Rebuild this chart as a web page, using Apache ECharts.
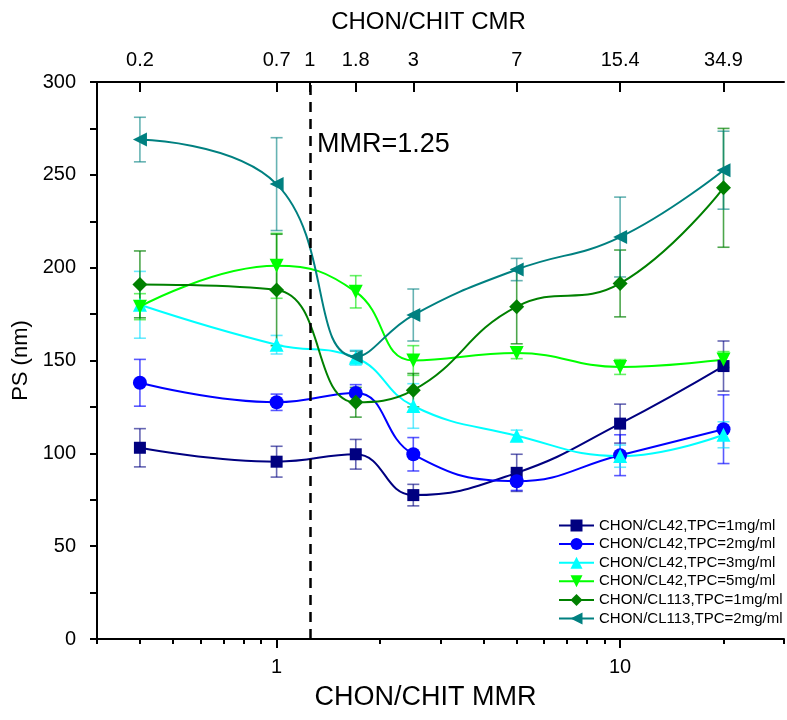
<!DOCTYPE html>
<html>
<head>
<meta charset="utf-8">
<script src="https://cdn.jsdelivr.net/npm/echarts@6/dist/echarts.min.js"></script>
<style>
html, body { margin: 0; padding: 0; background: #fff; }
#main { width: 787px; height: 720px; }
</style>
</head>
<body>
<div id="main"></div>
<script>
// x positions (CHON/CHIT MMR) and the matching CMR labels on the top axis
const mmr = [0.4, 1, 1.7, 2.5, 5, 10, 20];
const cmrTicks = [0.4, 1, 1.25, 1.7, 2.5, 5, 10, 20];
const cmrLabels = ['0.2', '0.7', '1', '1.8', '3', '7', '15.4', '34.9'];
const mmrMajor = [1, 10];
const mmrMinor = [0.3, 0.4, 0.5, 0.6, 0.7, 0.8, 0.9, 2, 3, 4, 5, 6, 7, 8, 9, 20, 30];
const mmrLine = 1.25;

const names = [
    'CHON/CL42,TPC=1mg/ml',
    'CHON/CL42,TPC=2mg/ml',
    'CHON/CL42,TPC=3mg/ml',
    'CHON/CL42,TPC=5mg/ml',
    'CHON/CL113,TPC=1mg/ml',
    'CHON/CL113,TPC=2mg/ml'
];

// PS (nm) and error bar half widths
const ps1 = [103, 95.5, 99.5, 77.5, 89.5, 116, 147];
const err1 = [10.3, 8.3, 8, 5.8, 10, 10.5, 13.5];
const ps2 = [138, 127.5, 132.5, 99.5, 85, 99, 113];
const err2 = [12.6, 4.4, 4.5, 9, 5, 11, 18.5];
const ps3 = [180, 158.5, 151.5, 125.5, 109.5, 98.5, 110];
const err3 = [18, 5, 4, 12, 3, 6, 7];
const ps4 = [179, 201, 187, 150, 154, 146.5, 150.5];
const err4 = [7, 17.5, 8.7, 8, 3, 4, 4.3];
const ps5 = [191, 188, 127.5, 134, 179, 191.5, 243];
const err5 = [18, 30, 8, 9, 20, 18, 32];
const ps6 = [269, 245, 152, 174.5, 199, 216.5, 252.5];
const err6 = [12, 25, 3, 14, 6, 21.5, 21];

const values = [ps1, ps2, ps3, ps4, ps5, ps6];
const errors = [err1, err2, err3, err4, err5, err6];

const colors = ['#000080', '#0000ff', '#00ffff', '#00ff00', '#008000', '#008080'];
const errColors = ['rgba(0,0,128,0.6)', 'rgba(0,0,255,0.65)', 'rgba(0,220,255,0.6)',
                   'rgba(0,230,0,0.6)', 'rgba(0,128,0,0.7)', 'rgba(0,128,128,0.6)'];
const symbols = ['rect', 'circle', 'triangle', 'triangle', 'diamond', 'triangle'];
const symbolRot = [0, 0, 0, 180, 0, 90];
const symbolSizes = [12, 14, 14, 14, 15, 14];

const FONT = 'Liberation Sans, Arial, sans-serif';

let myChart = echarts.init(document.getElementById('main'));

function renderErrorBar(params, api) {
    let x = api.value(0);
    let lo = api.coord([x, api.value(1)]);
    let hi = api.coord([x, api.value(2)]);
    let w = 6;
    let style = { stroke: api.visual('color'), lineWidth: 1.6 };
    return {
        type: 'group',
        children: [
            { type: 'line', shape: { x1: lo[0], y1: lo[1], x2: hi[0], y2: hi[1] }, style: style },
            { type: 'line', shape: { x1: lo[0] - w, y1: lo[1], x2: lo[0] + w, y2: lo[1] }, style: style },
            { type: 'line', shape: { x1: hi[0] - w, y1: hi[1], x2: hi[0] + w, y2: hi[1] }, style: style }
        ]
    };
}

let series = [];
values.forEach(function (ps, i) {
    series.push({
        type: 'custom',
        name: names[i] + ' error',
        xAxisIndex: 0,
        yAxisIndex: 0,
        z: 1,
        silent: true,
        itemStyle: { color: errColors[i] },
        renderItem: renderErrorBar,
        encode: { x: 0, y: [1, 2] },
        data: mmr.map(function (x, k) {
            return [x, ps[k] - errors[i][k], ps[k] + errors[i][k]];
        })
    });
});
values.forEach(function (ps, i) {
    let s = {
        type: 'line',
        name: names[i],
        xAxisIndex: 0,
        yAxisIndex: 0,
        z: 3,
        smooth: 0.45,
        symbol: symbols[i],
        symbolRotate: symbolRot[i],
        symbolSize: symbolSizes[i],
        color: colors[i],
        lineStyle: { width: 2, color: colors[i] },
        itemStyle: { color: colors[i] },
        data: mmr.map(function (x, k) { return [x, ps[k]]; })
    };
    if (i === 0) {
        s.markLine = {
            silent: true,
            symbol: 'none',
            label: { show: false },
            lineStyle: { color: '#000', width: 2.5, type: [10, 7] },
            data: [{ xAxis: mmrLine }]
        };
    }
    series.push(s);
});

let option = {
    animation: false,
    backgroundColor: '#fff',
    textStyle: { fontFamily: FONT },
    grid: { left: 97, right: 3, top: 82, bottom: 81 },
    legend: {
        data: names,
        orient: 'vertical',
        left: 558,
        top: 518,
        padding: 0,
        itemWidth: 35,
        itemHeight: 15,
        itemGap: 3.6,
        textStyle: { fontSize: 15, color: '#000', fontFamily: FONT, lineHeight: 15 }
    },
    graphic: [{
        type: 'text',
        left: 317,
        top: 131,
        style: { text: 'MMR=1.25', font: '27px ' + FONT, fill: '#000' }
    }],
    xAxis: [
        {
            type: 'log',
            logBase: 10,
            min: 0.3,
            max: 30,
            position: 'bottom',
            name: 'CHON/CHIT MMR',
            nameLocation: 'middle',
            nameGap: 45,
            nameTextStyle: { fontSize: 27, color: '#000', padding: [0, 30, 0, 0] },
            axisLine: { show: true, lineStyle: { color: '#000', width: 2 } },
            axisTick: { show: true, customValues: mmrMajor, length: 9, lineStyle: { color: '#000', width: 2 } },
            axisLabel: {
                customValues: mmrMajor,
                fontSize: 20,
                color: '#000',
                margin: 18,
                formatter: function (v) { return String(Math.round(v)); }
            },
            splitLine: { show: false }
        },
        {
            type: 'log',
            logBase: 10,
            min: 0.3,
            max: 30,
            position: 'top',
            name: 'CHON/CHIT CMR',
            nameLocation: 'middle',
            nameGap: 48,
            nameTextStyle: { fontSize: 24, color: '#000', padding: [0, 24, 0, 0] },
            axisLine: { show: true, lineStyle: { color: '#000', width: 2 } },
            axisTick: { show: true, inside: true, customValues: cmrTicks, length: 10, lineStyle: { color: '#000', width: 2 } },
            axisLabel: {
                customValues: cmrTicks,
                fontSize: 20,
                color: '#000',
                margin: 12,
                formatter: function (v) {
                    let best = 0;
                    cmrTicks.forEach(function (t, k) {
                        if (Math.abs(t - v) < Math.abs(cmrTicks[best] - v)) best = k;
                    });
                    return cmrLabels[best];
                }
            },
            splitLine: { show: false }
        },
        {
            type: 'log',
            logBase: 10,
            min: 0.3,
            max: 30,
            position: 'bottom',
            axisLine: { show: false },
            axisTick: { show: true, customValues: mmrMinor, length: 5, lineStyle: { color: '#000', width: 2 } },
            axisLabel: { show: false },
            splitLine: { show: false }
        }
    ],
    yAxis: {
        type: 'value',
        min: 0,
        max: 300,
        interval: 50,
        name: 'PS (nm)',
        nameLocation: 'middle',
        nameGap: 60,
        nameTextStyle: { fontSize: 22, color: '#000' },
        axisLine: { show: true, lineStyle: { color: '#000', width: 2 } },
        axisTick: { show: true, length: 7, lineStyle: { color: '#000', width: 2 } },
        minorTick: { show: true, splitNumber: 2, length: 7, lineStyle: { color: '#000', width: 2 } },
        axisLabel: { fontSize: 20, color: '#000', margin: 21 },
        splitLine: { show: false },
        minorSplitLine: { show: false }
    },
    series: series
};

myChart.setOption(option);
</script>
</body>
</html>
